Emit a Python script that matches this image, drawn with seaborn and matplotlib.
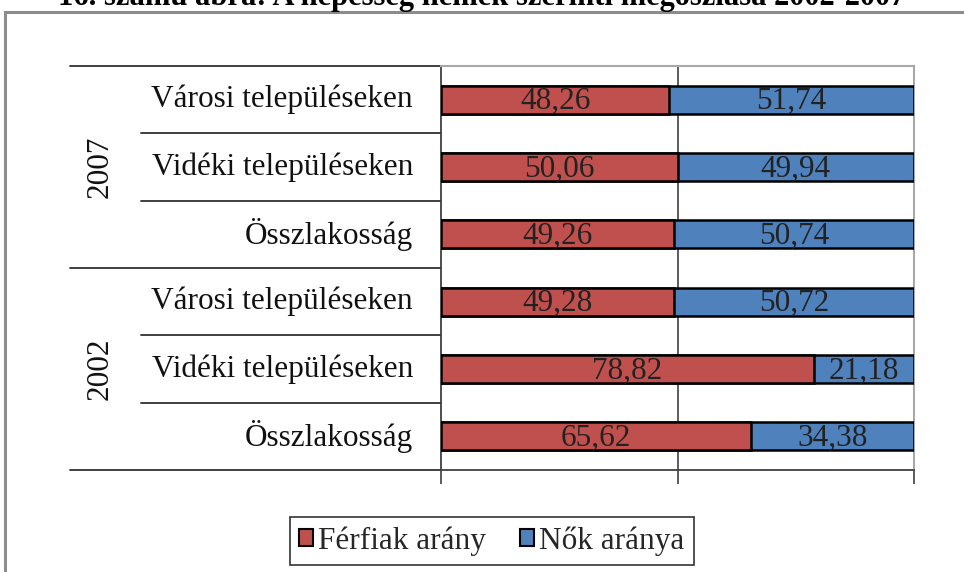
import numpy as np
import pandas as pd
import matplotlib
matplotlib.use("Agg")
import matplotlib.pyplot as plt
import seaborn as sns
from matplotlib.patches import Patch, Rectangle
from matplotlib.lines import Line2D

years = ["2007", "2002"]
places = ["Városi településeken", "Vidéki településeken", "Összlakosság"]
ferfiak = [48.26, 50.06, 49.26, 49.28, 78.82, 65.62]
nok = [51.74, 49.94, 50.74, 50.72, 21.18, 34.38]
series_names = ["Férfiak arány", "Nők aránya"]
title = "16. számú ábra: A népesség nemek szerinti megoszlása 2002-2007"

red = "#C0504D"
blue = "#4F81BD"

sns.set_theme(style="white")
plt.rcParams["font.family"] = ["Liberation Serif", "DejaVu Serif"]

rows = [f"{y} {p}" for y in years for p in places]
df = pd.DataFrame({"row": rows, "ferfi": ferfiak, "no": nok})
df["total"] = df["ferfi"] + df["no"]

fig = plt.figure(figsize=(9.64, 5.72), dpi=100)
ax = fig.add_axes([441 / 964, 1 - 470 / 572, 473 / 964, 404 / 572])

# stacked bars: total in blue, men on top in red
sns.barplot(data=df, y="row", x="total", orient="h", color=blue, saturation=1,
            width=0.42, edgecolor="black", linewidth=1.8, ax=ax, zorder=3)
sns.barplot(data=df, y="row", x="ferfi", orient="h", color=red, saturation=1,
            width=0.42, edgecolor="black", linewidth=1.8, ax=ax, zorder=4)

ax.set_xlim(0, 100)
ax.set_ylim(5.5, -0.5)
ax.set_xlabel("")
ax.set_ylabel("")
ax.set_yticks([])
ax.set_xticks([0, 50, 100])
ax.set_xticklabels([])
ax.tick_params(axis="x", direction="out", length=10, width=1.2, color="#404040", bottom=True)
ax.axvline(50, color="#505050", lw=1.3, zorder=1)

for side in ["top", "right"]:
    ax.spines[side].set_color("#a8a8a8")
    ax.spines[side].set_linewidth(1.5)
ax.spines["left"].set_color("#404040")
ax.spines["left"].set_linewidth(1.3)
ax.spines["bottom"].set_color("#404040")
ax.spines["bottom"].set_linewidth(1.3)

fs = 22.5

# value labels
for i, (f, n) in enumerate(zip(ferfiak, nok)):
    ax.text(f / 2, i + 0.03, f"{f:.2f}".replace(".", ","), ha="center", va="center",
            fontsize=fs, color="#222222", zorder=5)
    ax.text(f + n / 2, i + 0.03, f"{n:.2f}".replace(".", ","), ha="center", va="center",
            fontsize=fs, color="#222222", zorder=5)

# category labels and group separators
tr = ax.get_yaxis_transform()
for i, r in enumerate(rows):
    place = r.split(" ", 1)[1]
    ax.text(-0.059, i, place, transform=tr, ha="right", va="center",
            fontsize=fs, color="#111111", clip_on=False)
for k, y in enumerate(years):
    ax.text(-0.721, 3 * k + 1, y, transform=tr, ha="center", va="center",
            rotation=90, fontsize=fs, color="#111111", clip_on=False)
for b in [-0.5, 2.5, 5.5]:
    ax.add_line(Line2D([-0.784, 0], [b, b], transform=tr, color="#303030",
                       lw=1.3, clip_on=False))
for b in [0.5, 1.5, 3.5, 4.5]:
    ax.add_line(Line2D([-0.634, 0], [b, b], transform=tr, color="#303030",
                       lw=1.3, clip_on=False))

# legend
handles = [Patch(facecolor=red, edgecolor="black", lw=1.5),
           Patch(facecolor=blue, edgecolor="black", lw=1.5)]
leg = fig.legend(handles, series_names, loc="center", bbox_to_anchor=(0.51, 0.054),
                 ncol=2, fontsize=fs, frameon=True, fancybox=False,
                 handlelength=0.45, handleheight=0.45, handletextpad=0.15,
                 columnspacing=1.1, borderpad=0.3, borderaxespad=0)
leg.get_frame().set_edgecolor("black")
leg.get_frame().set_linewidth(1.2)

# outer chart border and clipped caption
fig.patches.append(Rectangle((5 / 964, -0.2), 1.5, 1.2 - 12 / 572,
                             transform=fig.transFigure, fill=False,
                             edgecolor="#8c8c8c", lw=2.2))
fig.text(0.5, 1 - 5 / 572, title, ha="center", va="baseline",
         fontsize=22, fontweight="bold", color="black")

fig.savefig("out.png", dpi=100)
